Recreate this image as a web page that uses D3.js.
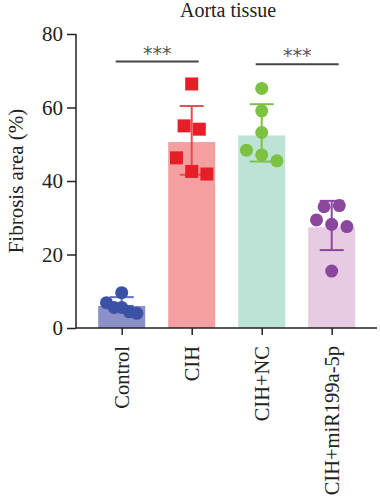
<!DOCTYPE html>
<html><head><meta charset="utf-8">
<script src="https://cdn.jsdelivr.net/npm/d3@7/dist/d3.min.js"></script>
<style>body{margin:0;background:#fff}svg{display:block}</style>
</head><body>
<script>
const categories = ["Control", "CIH", "CIH+NC", "CIH+miR199a-5p"];
const means = [6.0, 50.6, 52.4, 27.4];
const errUpper = [8.4, 60.4, 60.9, 34.6];
const errLower = [6.0, 41.7, 45.3, 21.2];
const pointValues = [
  [9.6, 6.9, 5.6, 5.6, 4.4, 4.0],
  [66.4, 55.0, 54.1, 46.3, 42.6, 41.9],
  [65.2, 59.1, 53.2, 48.4, 47.1, 45.5],
  [33.0, 33.3, 29.4, 28.2, 27.6, 15.5]
];
const pointSlots = [
  [0, -2, -1, 0, 1, 2],
  [0, -1, 1, -2, 0, 2],
  [0, 0, 0, -2, 0, 2],
  [-1, 1, -2, 0, 2, 0]
];
const yTicks = [0, 20, 40, 60, 80];
const comparisons = [["Control", "CIH", 72.5], ["CIH+NC", "CIH+miR199a-5p", 71.8]];
const sigLabel = "***";
const title = "Aorta tissue";
const yLabel = "Fibrosis area (%)";

const barColors = ["#8c90c9", "#f4a0a1", "#bce3d6", "#e7cbe2"];
const pointColors = ["#3a51a6", "#e61e28", "#7cc142", "#8a479d"];
const errColors = ["#6070c0", "#e84a55", "#7cc142", "#8a479d"];
const shapes = ["circle", "square", "circle", "circle"];

const W = 380, H = 500;
const font = '"Liberation Serif", "Times New Roman", serif';
const svg = d3.select("body").append("svg").attr("width", W).attr("height", H);

const y = d3.scaleLinear().domain([0, 80]).range([328, 34]);
const x = d3.scalePoint().domain(categories).range([86.7, 366.7]).padding(0.5);
const barW = 47, slotW = 7.6;

// bars
svg.selectAll("rect.bar").data(categories).join("rect")
  .attr("x", d => x(d) - barW / 2)
  .attr("y", (d, i) => y(means[i]))
  .attr("width", barW)
  .attr("height", (d, i) => y(0) - y(means[i]))
  .attr("fill", (d, i) => barColors[i]);

// error bars
categories.forEach((c, i) => {
  const g = svg.append("g").attr("stroke", errColors[i]).attr("stroke-width", 2);
  g.append("line").attr("x1", x(c)).attr("x2", x(c)).attr("y1", y(errUpper[i])).attr("y2", y(errLower[i]));
  g.append("line").attr("x1", x(c) - 12).attr("x2", x(c) + 12).attr("y1", y(errUpper[i])).attr("y2", y(errUpper[i]));
  g.append("line").attr("x1", x(c) - 12).attr("x2", x(c) + 12).attr("y1", y(errLower[i])).attr("y2", y(errLower[i]));
});

// points
categories.forEach((c, i) => {
  const pts = pointValues[i].map((v, j) => ({v, s: pointSlots[i][j]}));
  if (shapes[i] === "square") {
    svg.selectAll(null).data(pts).join("rect")
      .attr("x", d => x(c) + d.s * slotW - 6.5)
      .attr("y", d => y(d.v) - 6.5)
      .attr("width", 13).attr("height", 13)
      .attr("fill", pointColors[i]);
  } else {
    svg.selectAll(null).data(pts).join("circle")
      .attr("cx", d => x(c) + d.s * slotW)
      .attr("cy", d => y(d.v))
      .attr("r", 6.5)
      .attr("fill", pointColors[i]);
  }
});

// axes
const yAxis = svg.append("g").attr("transform", "translate(76,0)")
  .call(d3.axisLeft(y).tickValues(yTicks).tickSize(9).tickPadding(4));
yAxis.select(".domain").attr("d", `M0,${y(80)}V${y(0)}`).attr("stroke", "#222").attr("stroke-width", 1.5);
yAxis.selectAll(".tick line").attr("stroke", "#222").attr("stroke-width", 1.5);
yAxis.selectAll("text").style("font-family", font).style("font-size", "21px").attr("fill", "#222");

const xAxis = svg.append("g").attr("transform", `translate(0,${y(0)})`)
  .call(d3.axisBottom(x).tickSize(7).tickPadding(0));
xAxis.select(".domain").attr("d", `M76,0H377`).attr("stroke", "#222").attr("stroke-width", 1.5);
xAxis.selectAll(".tick line").attr("stroke", "#222").attr("stroke-width", 1.5);
xAxis.selectAll("text")
  .style("font-family", font).style("font-size", "20.5px").attr("fill", "#222")
  .attr("transform", "rotate(-90)")
  .attr("text-anchor", "end")
  .attr("x", -18).attr("y", 0).attr("dy", "0.35em");

// y label
svg.append("text").attr("transform", `translate(23,${(y(0) + y(80)) / 2}) rotate(-90)`)
  .attr("text-anchor", "middle").style("font-family", font).style("font-size", "21px").attr("fill", "#222")
  .text(yLabel);

// title
svg.append("text").attr("x", 228).attr("y", 17).attr("text-anchor", "middle")
  .style("font-family", font).style("font-size", "20px").attr("fill", "#222").text(title);

// significance
comparisons.forEach(([a, b, v]) => {
  const x1 = x(a) - 6, x2 = x(b) + 7;
  svg.append("line").attr("x1", x1).attr("x2", x2).attr("y1", y(v)).attr("y2", y(v))
    .attr("stroke", "#444").attr("stroke-width", 2);
  svg.append("text").attr("x", (x1 + x2) / 2).attr("y", y(v) - 2).attr("text-anchor", "middle")
    .style("font-family", '"DejaVu Sans", sans-serif').style("font-size", "19px").attr("fill", "#555")
    .text(sigLabel);
});
</script>
</body></html>
